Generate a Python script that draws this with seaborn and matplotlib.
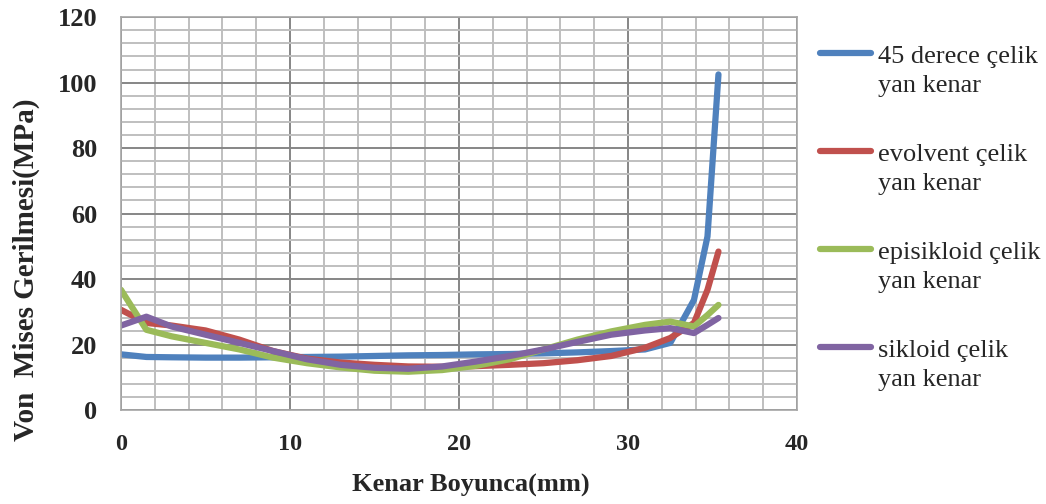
import numpy as np
import pandas as pd
import matplotlib
matplotlib.use("Agg")
import matplotlib.pyplot as plt
import seaborn as sns
from matplotlib.legend_handler import HandlerLine2D
from matplotlib.ticker import MultipleLocator

sns.set_style("white")
plt.rcParams["font.family"] = ["Liberation Serif", "DejaVu Serif"]

# distance along the edge (mm)
x_mm = [0, 1.5, 3, 5, 7, 9, 11, 13, 15, 17, 19, 21, 23, 25, 27, 29, 31,
        32.5, 33.9, 34.7, 35.35]

derece45 = [17.0, 16.2, 16.1, 16.0, 16.0, 16.1, 16.2, 16.3, 16.5, 16.7, 16.8,
            17.0, 17.1, 17.3, 17.6, 18.0, 18.5, 20.5, 33.6, 53.0, 102.5]
evolvent = [30.6, 26.6, 25.8, 24.3, 21.5, 18.0, 15.7, 14.5, 13.8, 13.3, 13.2,
            13.4, 13.8, 14.3, 15.2, 16.5, 19.0, 22.0, 26.6, 36.7, 48.4]
episikloid = [36.7, 24.5, 22.5, 20.5, 18.5, 16.0, 14.3, 13.0, 12.0, 11.7, 12.2,
              13.5, 15.5, 18.5, 21.5, 24.0, 26.0, 27.0, 25.5, 29.0, 32.1]
sikloid = [25.8, 28.5, 25.5, 23.0, 20.5, 18.0, 15.5, 13.8, 12.9, 12.6, 13.3,
           14.8, 16.5, 18.5, 20.8, 23.0, 24.3, 25.0, 23.5, 26.0, 28.1]

labels = ["45 derece çelik\nyan kenar", "evolvent çelik\nyan kenar",
          "episikloid çelik\nyan kenar", "sikloid çelik\nyan kenar"]
colors = ["#4F81BD", "#C0504D", "#9BBB59", "#8064A2"]

df = pd.concat([
    pd.DataFrame({"x": x_mm, "y": vals, "seri": lab})
    for vals, lab in zip([derece45, evolvent, episikloid, sikloid], labels)
])

LEG_LINESPACING = 1.38


class TopLineHandler(HandlerLine2D):
    """Put the legend line next to the first text line, like Excel."""

    def create_artists(self, legend, orig_handle, xdescent, ydescent,
                       width, height, fontsize, trans):
        arts = super().create_artists(legend, orig_handle, xdescent, ydescent,
                                      width, height, fontsize, trans)
        for a in arts:
            a.set_ydata(np.asarray(a.get_ydata()) + fontsize * LEG_LINESPACING / 2)
        return arts


fig = plt.figure(figsize=(10.46, 5.04), dpi=100)
ax = fig.add_axes([0.1157, 0.1865, 0.6463, 0.7795])

sns.lineplot(data=df, x="x", y="y", hue="seri", palette=colors, sort=False,
             linewidth=4.5, ax=ax, legend=True)
for ln in ax.get_lines():
    ln.set_solid_capstyle("round")
    ln.set_solid_joinstyle("round")

ax.set_xlim(0, 40)
ax.set_ylim(0, 120)
ax.xaxis.set_major_locator(MultipleLocator(10))
ax.yaxis.set_major_locator(MultipleLocator(20))
ax.xaxis.set_minor_locator(MultipleLocator(2))
ax.yaxis.set_minor_locator(MultipleLocator(4))
ax.grid(which="minor", color="#BFBFBF", linewidth=1.4)
ax.grid(which="major", color="#868686", linewidth=1.4)
ax.set_axisbelow(True)
for s in ax.spines.values():
    s.set_color("#A6A6A6")
    s.set_linewidth(1.2)

ax.tick_params(which="both", length=0, pad=17)
for t in ax.get_xticklabels():
    t.set_fontsize(17.5)
    t.set_fontweight("bold")
for t in ax.get_yticklabels():
    t.set_fontsize(19)
    t.set_fontweight("bold")

ax.set_xlabel("Kenar Boyunca(mm)", fontsize=19, fontweight="bold")
ax.set_ylabel("Von  Mises Gerilmesi(MPa)", fontsize=21, fontweight="bold")
ax.xaxis.set_label_coords(0.518, -0.163)
ax.yaxis.set_label_coords(-0.12, 0.356)

handles, labs = ax.get_legend_handles_labels()
leg = ax.legend(handles, labs, loc="upper left", bbox_to_anchor=(0.7616, 0.955),
                bbox_transform=fig.transFigure, frameon=False, fontsize=19,
                handlelength=1.9, handletextpad=0.3, labelspacing=1.8,
                handler_map={matplotlib.lines.Line2D: TopLineHandler()})
for t in leg.get_texts():
    t.set_linespacing(LEG_LINESPACING)

fig.savefig("out.png", dpi=100)
